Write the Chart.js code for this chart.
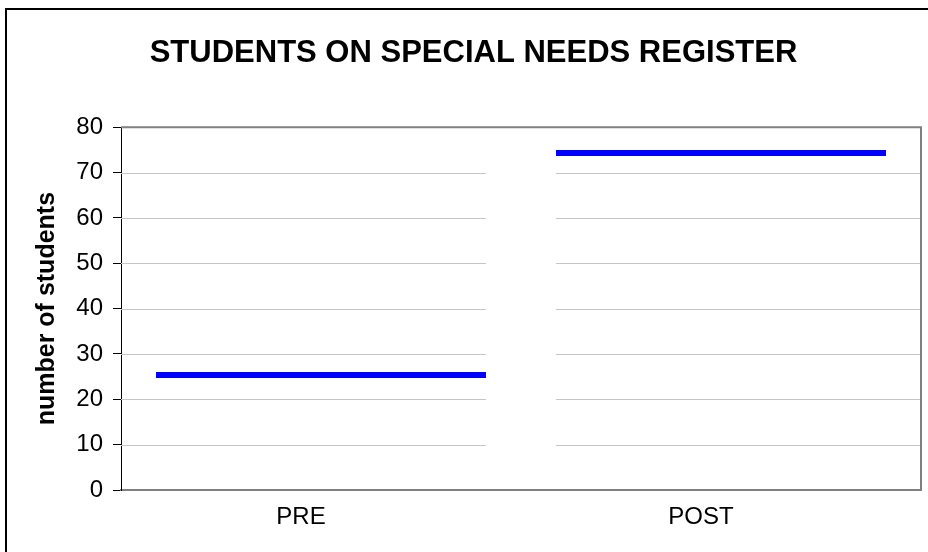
<!DOCTYPE html>
<html>
<head>
<meta charset="utf-8">
<script src="https://cdn.jsdelivr.net/npm/chart.js@4"></script>
<style>
  html, body { margin: 0; padding: 0; background: #fff; }
  #wrap { position: relative; width: 928px; height: 552px; overflow: hidden; }
  #frame { position: absolute; left: 5px; top: 8px; width: 1000px; height: 1000px;
           border-left: 2px solid #000; border-top: 2px solid #000; box-sizing: border-box; }
  #chart { position: absolute; left: 0; top: 0; }
</style>
</head>
<body>
<div id="wrap">
  <div id="frame"></div>
  <canvas id="chart" width="928" height="552"></canvas>
</div>
<script>
const categories = ["PRE", "POST"];
const students = [26, 75];
const yTicks = [0, 10, 20, 30, 40, 50, 60, 70, 80];

// gridlines run from the plot edge up to each bar, leaving the gap between bars blank
const splitGrid = {
  id: "splitGrid",
  beforeDatasetsDraw(chart) {
    const { ctx, chartArea, scales } = chart;
    const y = scales.y;
    const bars = chart.getDatasetMeta(0).data;
    const leftEnd = bars[0].x + bars[0].width / 2;
    const rightStart = bars[1].x - bars[1].width / 2;
    ctx.save();
    ctx.strokeStyle = "#c6c6c6";
    ctx.lineWidth = 1;
    y.ticks.forEach((t) => {
      if (t.value === y.min || t.value === y.max) return;
      const py = Math.round(y.getPixelForValue(t.value)) + 0.5;
      ctx.beginPath();
      ctx.moveTo(chartArea.left, py);
      ctx.lineTo(leftEnd, py);
      ctx.moveTo(rightStart, py);
      ctx.lineTo(chartArea.right, py);
      ctx.stroke();
    });
    // plot frame top and right
    ctx.strokeStyle = "#808080";
    ctx.lineWidth = 2;
    ctx.beginPath();
    ctx.moveTo(chartArea.left, chartArea.top);
    ctx.lineTo(chartArea.right, chartArea.top);
    ctx.lineTo(chartArea.right, chartArea.bottom);
    ctx.stroke();
    ctx.restore();
  },
};

new Chart(document.getElementById("chart"), {
  type: "bar",
  data: {
    labels: categories,
    datasets: [
      {
        data: students,
        backgroundColor: "rgba(255,255,255,0)",
        borderColor: "#0000ff",
        borderWidth: { top: 6, left: 0, right: 0, bottom: 0 },
        borderSkipped: false,
        barPercentage: 0.825,
        categoryPercentage: 1,
      },
    ],
  },
  options: {
    responsive: false,
    animation: false,
    layout: { padding: { left: 26, right: 7, top: 0, bottom: 0 } },
    plugins: {
      legend: { display: false },
      tooltip: { enabled: false },
      title: {
        display: true,
        text: "STUDENTS ON SPECIAL NEEDS REGISTER",
        color: "#000",
        font: { family: "Arial, 'Liberation Sans'", size: 31, weight: "bold" },
        padding: { top: 35, bottom: 55 },
      },
    },
    scales: {
      x: {
        afterFit: (s) => { s.height = 62; },
        grid: { display: false, drawTicks: false },
        border: { color: "#808080", width: 2 },
        ticks: {
          color: "#000",
          padding: 13,
          labelOffset: -20,
          font: { family: "Arial, 'Liberation Sans'", size: 24 },
        },
      },
      y: {
        min: 0,
        max: 80,
        afterFit: (s) => { s.width = 95; },
        afterBuildTicks: (s) => { s.ticks = yTicks.map((v) => ({ value: v })); },
        grid: { drawOnChartArea: false, drawTicks: true, tickLength: 8, color: "#000" },
        border: { color: "#000", width: 1 },
        ticks: {
          color: "#000",
          padding: 10,
          font: { family: "Arial, 'Liberation Sans'", size: 24 },
        },
        title: {
          display: true,
          text: "number of students",
          color: "#000",
          font: { family: "Arial, 'Liberation Sans'", size: 25, weight: "bold" },
          padding: { top: 6, bottom: 0 },
        },
      },
    },
  },
  plugins: [splitGrid],
});
</script>
</body>
</html>
